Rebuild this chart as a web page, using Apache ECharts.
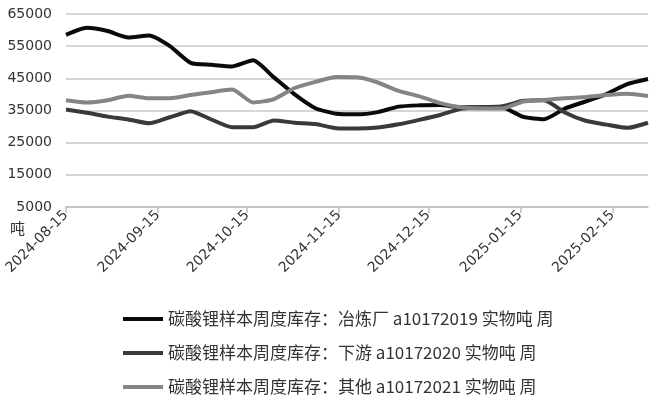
<!DOCTYPE html>
<html>
<head>
<meta charset="utf-8">
<script src="https://cdn.jsdelivr.net/npm/echarts@6/dist/echarts.min.js"></script>
<style>
  html, body { margin: 0; padding: 0; background: #fff; }
  .line { width: 655px; height: 399px; }
</style>
</head>
<body>
<div class="line"></div>
<script>
// 每周数据（周四）
const dates = ['2024-08-15', '2024-08-22', '2024-08-29', '2024-09-05', '2024-09-12', '2024-09-19', '2024-09-26',
  '2024-10-03', '2024-10-10', '2024-10-17', '2024-10-24', '2024-10-31', '2024-11-07', '2024-11-14',
  '2024-11-21', '2024-11-28', '2024-12-05', '2024-12-12', '2024-12-19', '2024-12-26', '2025-01-02',
  '2025-01-09', '2025-01-16', '2025-01-23', '2025-01-30', '2025-02-06', '2025-02-13', '2025-02-20', '2025-02-27'];
const smelter = [58500, 60700, 59700, 57700, 58300, 55000, 49800, 49200, 48700, 50600, 45300, 40000, 35700, 34000,
  33800, 34500, 36200, 36600, 36700, 36000, 36000, 35900, 33000, 32300, 35600, 37800, 40100, 43200, 44800];
const downstream = [35300, 34300, 33100, 32200, 31000, 32900, 34800, 32200, 29800, 29800, 31900, 31200, 30800, 29500,
  29400, 29700, 30700, 32100, 33600, 35500, 36000, 36300, 38000, 38200, 34400, 31800, 30600, 29600, 31200];
const other = [38200, 37500, 38200, 39600, 38800, 38800, 39800, 40700, 41500, 37500, 38500, 42000, 43900, 45400,
  45300, 43700, 41100, 39400, 37300, 36000, 35600, 35600, 37800, 38300, 38800, 39200, 39800, 40200, 39500];
const tickLabels = ['2024-08-15', '2024-09-15', '2024-10-15', '2024-11-15', '2024-12-15', '2025-01-15', '2025-02-15'];
const seriesNames = ['碳酸锂样本周度库存：冶炼厂 a10172019 实物吨 周', '碳酸锂样本周度库存：下游 a10172020 实物吨 周', '碳酸锂样本周度库存：其他 a10172021 实物吨 周'];

{
  // 日期 -> 天数（以 UTC 计算，避免时区影响）
  const day = s => {
    const p = s.split('-');
    return Date.UTC(+p[0], +p[1] - 1, +p[2]) / 86400000;
  };
  const pad = n => (n < 10 ? '0' : '') + n;
  const fmt = v => {
    const d = new Date(Math.round(v) * 86400000);
    return d.getUTCFullYear() + '-' + pad(d.getUTCMonth() + 1) + '-' + pad(d.getUTCDate());
  };
  const tickValues = tickLabels.map(day);
  const colors = ['#0a0a0a', '#3a3a3a', '#858585'];
  const values = [smelter, downstream, other];

  let option = {
    animation: false,
    color: colors,
    grid: {
      left: 66,
      right: 7,
      top: 14,
      bottom: 192
    },
    legend: {
      orient: 'vertical',
      left: 123,
      top: 309,
      padding: 0,
      itemWidth: 40,
      itemHeight: 4,
      itemGap: 14,
      icon: 'rect',
      data: seriesNames,
      textStyle: {
        fontFamily: 'Noto Sans CJK SC',
        fontSize: 17,
        lineHeight: 20,
        color: '#333'
      }
    },
    graphic: [{
      type: 'text',
      left: 10,
      top: 221,
      style: {
        text: '吨',
        fontFamily: 'Noto Sans CJK SC',
        fontSize: 15,
        fill: '#333'
      }
    }],
    xAxis: {
      type: 'value',
      min: day(dates[0]),
      max: day(dates[dates.length - 1]),
      axisLine: { show: true, onZero: false, lineStyle: { color: '#bfbfbf', width: 1.5 } },
      axisTick: {
        show: true,
        length: 6,
        customValues: tickValues,
        lineStyle: { color: '#bfbfbf', width: 1.5 }
      },
      axisLabel: {
        customValues: tickValues,
        rotate: 45,
        margin: 6,
        fontFamily: 'DejaVu Sans',
        fontSize: 14,
        color: '#333',
        formatter: v => fmt(v)
      },
      splitLine: { show: false }
    },
    yAxis: {
      type: 'value',
      min: 5000,
      max: 65000,
      interval: 10000,
      axisLine: { show: false },
      axisTick: { show: false },
      axisLabel: {
        margin: 14,
        fontFamily: 'DejaVu Sans',
        fontSize: 14,
        color: '#333',
        formatter: v => String(v)
      },
      splitLine: { lineStyle: { color: '#c8c8c8', width: 1.5 } }
    },
    series: seriesNames.map((name, k) => ({
      name: name,
      type: 'line',
      smooth: 0.2,
      symbol: 'none',
      lineStyle: { width: 4, color: colors[k] },
      data: dates.map((d, i) => [day(d), values[k][i]])
    }))
  };
  let myChart = echarts.init(document.querySelector('.line'));
  myChart.setOption(option);
}
</script>
</body>
</html>
